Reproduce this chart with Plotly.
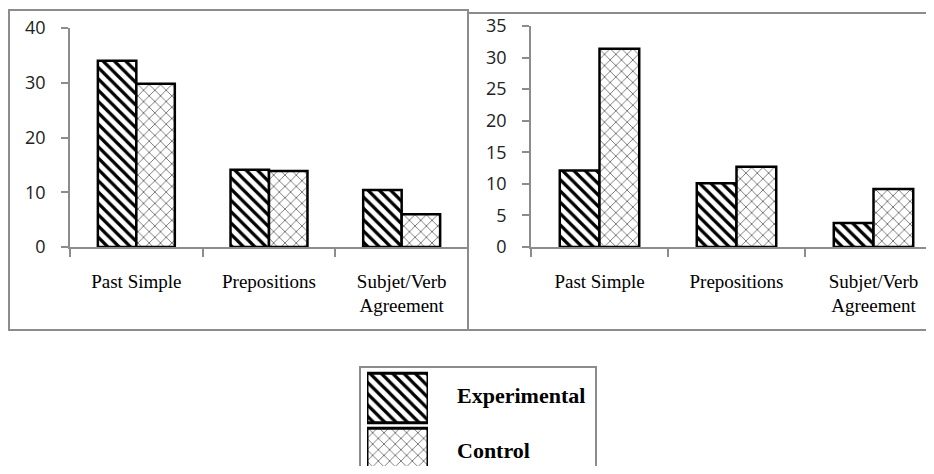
import plotly.graph_objects as go

# ---- data ----
categories = ["Past Simple", "Prepositions", "Subjet/Verb<br>Agreement"]
series_names = ["Experimental", "Control"]
left_experimental = [34.0, 14.1, 10.4]
left_control = [29.8, 13.9, 6.0]
right_experimental = [12.1, 10.1, 3.8]
right_control = [31.4, 12.7, 9.2]
left_ticks = [0, 10, 20, 30, 40]
right_ticks = [0, 5, 10, 15, 20, 25, 30, 35]
legend_values = [1, 1]

# the page body adds an 8px margin; figure is sized so the page does not overflow
OFF = 8
W, H = 934 - 2 * OFF, 474 - 2 * OFF


def px(x):
    return (x - OFF) / W


def py(y):
    return 1 - (y - OFF) / H


GRAY = "#8c8c8c"
exp_pattern = dict(shape="\\", fgcolor="black", bgcolor="white", size=8, solidity=0.4, fillmode="replace")
ctl_pattern = dict(shape="x", fgcolor="#666666", bgcolor="white", size=8, solidity=0.2, fillmode="replace")
bar_line = dict(color="black", width=2.5)

fig = go.Figure()

fig.add_trace(go.Bar(x=categories, y=left_experimental, name=series_names[0],
                     marker=dict(color="white", pattern=exp_pattern, line=bar_line),
                     xaxis="x", yaxis="y", showlegend=False))
fig.add_trace(go.Bar(x=categories, y=left_control, name=series_names[1],
                     marker=dict(color="white", pattern=ctl_pattern, line=bar_line),
                     xaxis="x", yaxis="y", showlegend=False))
fig.add_trace(go.Bar(x=categories, y=right_experimental, name=series_names[0],
                     marker=dict(color="white", pattern=exp_pattern, line=bar_line),
                     xaxis="x2", yaxis="y2", showlegend=False))
fig.add_trace(go.Bar(x=categories, y=right_control, name=series_names[1],
                     marker=dict(color="white", pattern=ctl_pattern, line=bar_line),
                     xaxis="x2", yaxis="y2", showlegend=False))

# legend swatches drawn as bars on a hidden axis
fig.add_trace(go.Bar(y=[series_names[0]], x=[legend_values[0]], orientation="h",
                     marker=dict(color="white", pattern=exp_pattern, line=dict(color="black", width=3)),
                     width=0.9, offset=-0.45, xaxis="x3", yaxis="y3", showlegend=False, hoverinfo="skip"))
fig.add_trace(go.Bar(y=[series_names[1]], x=[legend_values[1]], orientation="h",
                     marker=dict(color="white", pattern=ctl_pattern, line=dict(color="black", width=3)),
                     width=0.9, offset=-0.45, xaxis="x3", yaxis="y3", showlegend=False, hoverinfo="skip"))

xfont = dict(family="Liberation Serif", size=19, color="black")
yfont = dict(family="Open Sans", size=18, color="#222222")

common_x = dict(type="category", tickson="boundaries", ticks="outside", ticklen=8,
                tickcolor=GRAY, tickwidth=1.5, showline=True, linecolor=GRAY, linewidth=1.5,
                showgrid=False, zeroline=False, tickfont=xfont, ticklabelstandoff=16,
                automargin=False, fixedrange=True)
common_y = dict(ticks="outside", ticklen=7, tickcolor=GRAY, tickwidth=1.5, showline=True,
                linecolor=GRAY, linewidth=1.5, showgrid=False, zeroline=False,
                tickfont=yfont, ticklabelstandoff=12, automargin=False, fixedrange=True)

# legend swatch axis: two category rows, each 55px tall, top row centred at y=398
leg_top = 370.5
leg_row = 55.0
leg_bottom_val = 1.5 - (474 - OFF - leg_top) / leg_row

fig.update_layout(
    width=W, height=H,
    margin=dict(l=0, r=0, t=0, b=0, autoexpand=False),
    paper_bgcolor="white", plot_bgcolor="white",
    barmode="group", bargap=0.42, bargroupgap=0,
    xaxis=dict(domain=[px(70), px(468)], range=[-0.5, 2.5], anchor="y", **common_x),
    yaxis=dict(domain=[py(247), py(28)], range=[0, 40], tickvals=left_ticks, anchor="x", **common_y),
    xaxis2=dict(domain=[px(531), 1.0], range=[-0.5, -0.5 + (934 - OFF - 531) / 137.0], anchor="y2", **common_x),
    yaxis2=dict(domain=[py(247), py(26)], range=[0, 35], tickvals=right_ticks, anchor="x2", **common_y),
    xaxis3=dict(domain=[px(367), px(428)], range=[0, 1], anchor="y3", visible=False,
                automargin=False, fixedrange=True),
    yaxis3=dict(domain=[0, py(leg_top)], range=[leg_bottom_val, 1.5], anchor="x3", visible=False,
                type="category", categoryorder="array", categoryarray=[series_names[1], series_names[0]],
                automargin=False, fixedrange=True),
    shapes=[
        dict(type="rect", xref="paper", yref="paper", x0=px(9), x1=px(468), y0=py(330), y1=py(10),
             line=dict(color=GRAY, width=2), layer="below"),
        dict(type="rect", xref="paper", yref="paper", x0=px(468), x1=px(960), y0=py(330), y1=py(13),
             line=dict(color=GRAY, width=2), layer="below"),
        dict(type="rect", xref="paper", yref="paper", x0=px(360), x1=px(596), y0=py(490), y1=py(367),
             line=dict(color=GRAY, width=2), layer="below"),
    ],
    annotations=[
        dict(text="<b>Experimental</b>", xref="paper", yref="paper", x=px(455), y=py(395),
             xanchor="left", yanchor="middle", showarrow=False,
             font=dict(family="Liberation Serif", size=22, color="black")),
        dict(text="<b>Control</b>", xref="paper", yref="paper", x=px(455), y=py(465),
             xanchor="left", yanchor="bottom", showarrow=False,
             font=dict(family="Liberation Serif", size=22, color="black")),
    ],
)

fig.write_html("out.html", config={"displayModeBar": False})
